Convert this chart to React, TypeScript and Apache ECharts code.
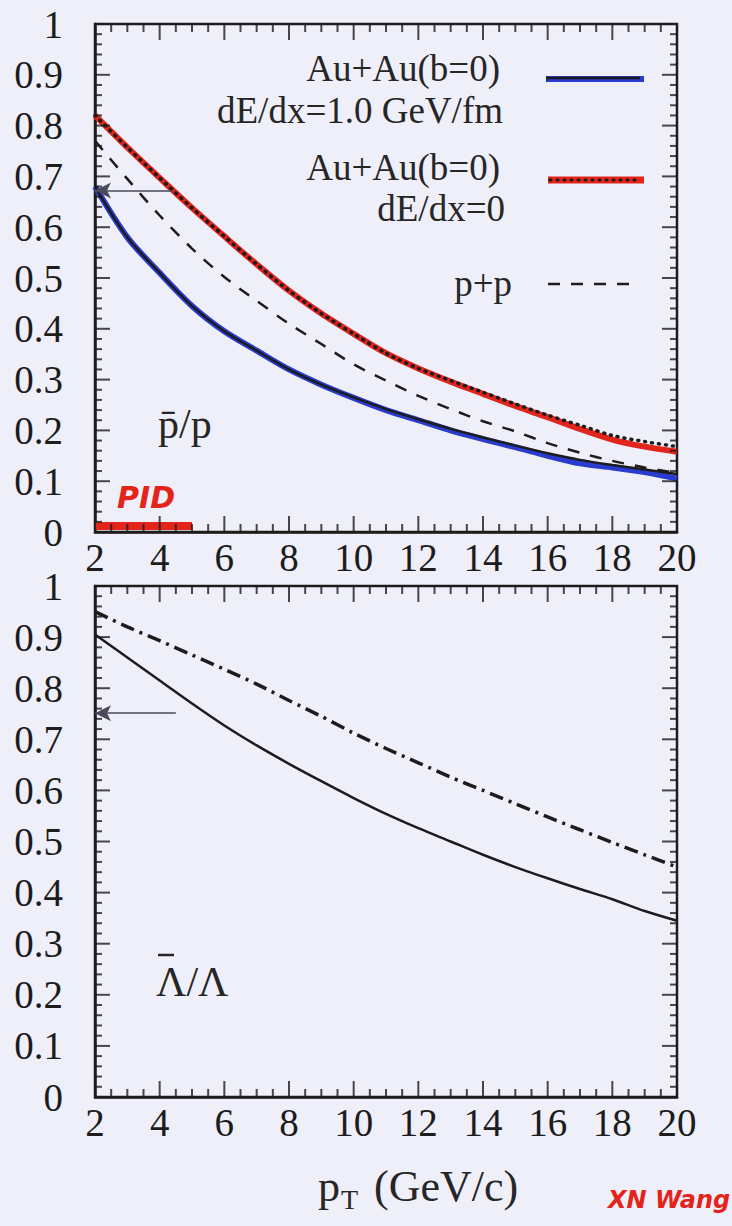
import React, { useEffect, useRef } from 'react';
import * as echarts from 'echarts';

// transverse momentum grid (GeV/c), shared by every curve
const pT = [2, 3, 4, 5, 6, 7, 8, 9, 10, 11, 12, 13, 14, 15, 16, 17, 18, 19, 20];

// top panel: pbar/p
const pbarQuench = [0.68, 0.58, 0.51, 0.445, 0.395, 0.357, 0.32, 0.29, 0.265, 0.242, 0.222, 0.203, 0.186, 0.17, 0.155, 0.142, 0.132, 0.123, 0.114];
const pbarQuenchMarker = [0.68, 0.58, 0.51, 0.445, 0.395, 0.357, 0.32, 0.29, 0.264, 0.24, 0.22, 0.2, 0.183, 0.167, 0.15, 0.135, 0.127, 0.118, 0.105];
const pbarNoLoss = [0.82, 0.757, 0.697, 0.638, 0.582, 0.527, 0.475, 0.43, 0.39, 0.352, 0.322, 0.298, 0.275, 0.252, 0.23, 0.21, 0.19, 0.178, 0.168];
const pbarNoLossMarker = [0.82, 0.757, 0.697, 0.638, 0.582, 0.527, 0.475, 0.43, 0.39, 0.352, 0.322, 0.296, 0.272, 0.248, 0.226, 0.203, 0.182, 0.168, 0.158];
const pbarPP = [0.77, 0.695, 0.623, 0.558, 0.502, 0.455, 0.41, 0.37, 0.33, 0.298, 0.268, 0.242, 0.218, 0.198, 0.175, 0.156, 0.14, 0.127, 0.116];

// bottom panel: Lambdabar/Lambda
const lamQuench = [0.905, 0.86, 0.815, 0.77, 0.727, 0.688, 0.652, 0.618, 0.585, 0.554, 0.526, 0.5, 0.474, 0.45, 0.428, 0.407, 0.387, 0.364, 0.345];
const lamNoLoss = [0.95, 0.92, 0.893, 0.865, 0.837, 0.808, 0.776, 0.745, 0.712, 0.682, 0.654, 0.626, 0.6, 0.574, 0.548, 0.523, 0.498, 0.474, 0.45];

// tick positions on the frames (major ticks carry the labels)
const xMajor = [2, 4, 6, 8, 10, 12, 14, 16, 18, 20];
const xMinor = [2.5, 3, 3.5, 4.5, 5, 5.5, 6.5, 7, 7.5, 8.5, 9, 9.5, 10.5, 11, 11.5, 12.5, 13, 13.5, 14.5, 15, 15.5, 16.5, 17, 17.5, 18.5, 19, 19.5];
const yMajor = [0, 0.1, 0.2, 0.3, 0.4, 0.5, 0.6, 0.7, 0.8, 0.9, 1];
const yMinor = [
  0.02, 0.04, 0.06, 0.08, 0.12, 0.14, 0.16, 0.18, 0.22, 0.24, 0.26, 0.28, 0.32, 0.34, 0.36, 0.38,
  0.42, 0.44, 0.46, 0.48, 0.52, 0.54, 0.56, 0.58, 0.62, 0.64, 0.66, 0.68, 0.72, 0.74, 0.76, 0.78,
  0.82, 0.84, 0.86, 0.88, 0.92, 0.94, 0.96, 0.98,
];

// annotations (data units)
const pbarArrow = { y: 0.672, from: 2, to: 4.4 };
const lamArrow = { y: 0.751, from: 2, to: 4.5 };
const pidBar = { y: 0.012, from: 2, to: 5 };

const INK = '#1c1c1c';
const RED = '#e3241b';
const BLUE = '#2a3ccf';
const SERIF = 'Liberation Serif';

const pts = (ys: number[]) => pT.map((x, i) => [x, ys[i]]);

const xAxis = (gridIndex: number) => ({
  type: 'value', gridIndex, position: 'bottom', min: 2, max: 20, interval: 2,
  axisLine: { show: true, onZero: false, lineStyle: { color: INK, width: 2.5 } },
  axisTick: { show: false },
  axisLabel: { show: true, color: INK, fontSize: 39, fontFamily: SERIF, margin: 6 },
  splitLine: { show: false },
});

const yAxis = (gridIndex: number) => ({
  type: 'value', gridIndex, position: 'left', min: 0, max: 1, interval: 0.1,
  axisLine: { show: true, onZero: false, lineStyle: { color: INK, width: 2.5 } },
  axisTick: { show: false },
  axisLabel: { show: true, color: INK, fontSize: 39, fontFamily: SERIF, margin: 32 },
  splitLine: { show: false },
});

const line = (name: string, data: number[][], grid: number, lineStyle: any, extra: any = {}) => ({
  name, type: 'line', data, xAxisIndex: grid, yAxisIndex: grid,
  showSymbol: false, symbol: 'none', smooth: 0.3, lineStyle, silent: true, ...extra,
});

// inward tick marks on all four sides of a panel, placed through the panel's own axes
const ticks = (grid: number) => {
  const mk = (data: number[][], size: number[], offset: number[]) => ({
    type: 'scatter', xAxisIndex: grid, yAxisIndex: grid, data, symbol: 'rect',
    symbolSize: size, symbolOffset: offset, itemStyle: { color: INK }, silent: true, clip: false, z: 4,
  });
  return [
    mk(xMajor.map((x) => [x, 0]), [2, 16], [0, -8]),
    mk(xMinor.map((x) => [x, 0]), [2, 8], [0, -4]),
    mk(xMajor.map((x) => [x, 1]), [2, 16], [0, 8]),
    mk(xMinor.map((x) => [x, 1]), [2, 8], [0, 4]),
    mk(yMajor.map((y) => [2, y]), [15, 2], [7.5, 0]),
    mk(yMinor.map((y) => [2, y]), [7, 2], [3.5, 0]),
    mk(yMajor.map((y) => [20, y]), [15, 2], [-7.5, 0]),
    mk(yMinor.map((y) => [20, y]), [7, 2], [-3.5, 0]),
  ];
};

const arrow = (a: { y: number; from: number; to: number }) => ({
  silent: true, symbol: ['arrow', 'none'], symbolSize: [12, 16], label: { show: false },
  lineStyle: { color: '#4a4a5a', width: 1.5, type: 'solid' },
  data: [[{ coord: [a.from, a.y] }, { coord: [a.to, a.y] }]],
});

const txt = (x: number, y: number, text: string, size: number, align = 'left', extra: any = {}) => ({
  type: 'text', x, y, silent: true, z: 10,
  style: { text, fontSize: size, fontFamily: SERIF, fill: '#262626', align, verticalAlign: 'middle', ...extra },
});

const seg = (x1: number, x2: number, y: number, style: any) => ({
  type: 'line', silent: true, z: 10, shape: { x1, y1: y, x2, y2: y }, style,
});

export default function App() {
  const ref = useRef<HTMLDivElement>(null);
  useEffect(() => {
    if (!ref.current) return;
    const chart = echarts.init(ref.current, null, { renderer: 'svg' });
    chart.setOption({
      animation: false,
      backgroundColor: '#efeffa',
      grid: [
        { left: 95, right: 55, top: 24, height: 508, show: true, borderColor: INK, borderWidth: 2.5, backgroundColor: 'transparent' },
        { left: 95, right: 55, top: 586, height: 511, show: true, borderColor: INK, borderWidth: 2.5, backgroundColor: 'transparent' },
      ],
      xAxis: [xAxis(0), xAxis(1)],
      yAxis: [yAxis(0), yAxis(1)],
      series: [
        line('PID', [[pidBar.from, pidBar.y], [pidBar.to, pidBar.y]], 0, { color: RED, width: 8 }, { smooth: false }),
        line('dE/dx=0 marker', pts(pbarNoLossMarker), 0, { color: RED, width: 6 }),
        line('Au+Au(b=0) dE/dx=0', pts(pbarNoLoss), 0, { color: INK, width: 3.5, type: [1, 6], cap: 'round' }),
        line('dE/dx=1.0 marker', pts(pbarQuenchMarker), 0, { color: BLUE, width: 6 }),
        line('Au+Au(b=0) dE/dx=1.0 GeV/fm', pts(pbarQuench), 0, { color: INK, width: 2.5 }, { markLine: arrow(pbarArrow) }),
        line('p+p', pts(pbarPP), 0, { color: INK, width: 2.5, type: [12, 11] }),
        line('Lambda dE/dx=1.0 GeV/fm', pts(lamQuench), 1, { color: INK, width: 2.5 }, { markLine: arrow(lamArrow) }),
        line('Lambda dE/dx=0', pts(lamNoLoss), 1, { color: INK, width: 3.5, type: [14, 6, 3, 6] }),
        ...ticks(0),
        ...ticks(1),
      ],
      graphic: [
        txt(500, 68, 'Au+Au(b=0)', 37, 'right'),
        txt(503, 110, 'dE/dx=1.0 GeV/fm', 37, 'right'),
        txt(500, 167, 'Au+Au(b=0)', 37, 'right'),
        txt(505, 208, 'dE/dx=0', 37, 'right'),
        txt(512, 283, 'p+p', 37, 'right'),
        seg(546, 644, 79, { stroke: BLUE, lineWidth: 6 }),
        seg(546, 640, 78, { stroke: INK, lineWidth: 2.5 }),
        seg(548, 644, 180, { stroke: RED, lineWidth: 7 }),
        seg(550, 640, 180, { stroke: INK, lineWidth: 3, lineDash: [1, 6], lineCap: 'round' }),
        seg(548, 640, 284, { stroke: INK, lineWidth: 2.5, lineDash: [12, 11] }),
        txt(158, 424, 'p\u0304/p', 42),
        txt(156, 982, '\u039B/\u039B', 42),
        seg(158, 174, 955, { stroke: '#262626', lineWidth: 2.5 }),
        txt(117, 497, 'PID', 30, 'left', { fill: RED, fontFamily: 'DejaVu Sans', fontWeight: 'bold', fontStyle: 'italic' }),
        txt(318, 1186, 'p', 44),
        txt(341, 1199, 'T', 28),
        txt(374, 1186, '(GeV/c)', 44),
        txt(608, 1200, 'XN Wang', 24, 'left', { fill: RED, fontFamily: 'DejaVu Sans', fontWeight: 'bold', fontStyle: 'italic' }),
      ],
    });
    return () => { chart.dispose(); };
  }, []);
  return <div ref={ref} style={{ position: 'absolute', left: 0, top: 0, width: 732, height: 1226 }} />;
}
